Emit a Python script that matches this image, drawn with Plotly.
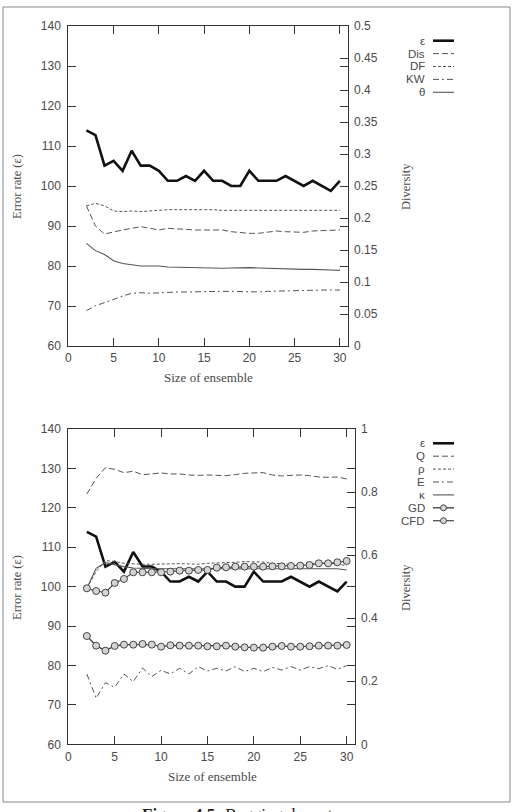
import plotly.graph_objects as go

W, H = 520, 812

# ---------------- data ----------------
ensemble_size = [2, 3, 4, 5, 6, 7, 8, 9, 10, 11, 12, 13, 14, 15, 16, 17, 18, 19, 20,
                 21, 22, 23, 24, 25, 26, 27, 28, 29, 30]

error_rate = [113.9, 112.7, 105.1, 106.3, 103.8, 108.8, 105.1, 105.1, 103.8, 101.3,
              101.3, 102.5, 101.3, 103.8, 101.3, 101.3, 100.0, 100.0, 103.8, 101.3,
              101.3, 101.3, 102.5, 101.3, 100.0, 101.3, 100.0, 98.8, 101.3]

dis = [0.219, 0.1875, 0.175, 0.1786, 0.1813, 0.1839, 0.1865, 0.1839, 0.1813, 0.1839,
       0.1828, 0.1818, 0.1813, 0.1813, 0.1813, 0.1813, 0.1786, 0.1771, 0.1760, 0.1760,
       0.1776, 0.1797, 0.1786, 0.1776, 0.1776, 0.1797, 0.1802, 0.1797, 0.1813]
df = [0.219, 0.223, 0.219, 0.211, 0.210, 0.211, 0.210, 0.211, 0.213, 0.213,
      0.213, 0.213, 0.213, 0.214, 0.213, 0.212, 0.212, 0.213, 0.213, 0.213,
      0.212, 0.212, 0.212, 0.212, 0.212, 0.212, 0.212, 0.212, 0.212]
kw = [0.0552, 0.063, 0.0677, 0.0734, 0.078, 0.0823, 0.0833, 0.0823, 0.0833, 0.0844,
      0.0844, 0.0844, 0.0849, 0.0849, 0.0854, 0.0854, 0.0854, 0.0849, 0.0839, 0.0844,
      0.0854, 0.0859, 0.0865, 0.0859, 0.0865, 0.087, 0.0875, 0.0875, 0.0875]
theta = [0.1604, 0.149, 0.143, 0.1333, 0.129, 0.1266, 0.125, 0.125, 0.125, 0.1234,
         0.1229, 0.1224, 0.1219, 0.1219, 0.1214, 0.1214, 0.1219, 0.1224, 0.1224, 0.1219,
         0.1214, 0.1203, 0.1203, 0.1203, 0.1198, 0.1198, 0.1188, 0.1188, 0.1182]

q_stat = [0.794, 0.8436, 0.877, 0.872, 0.8615, 0.866, 0.855, 0.8574, 0.8606, 0.8574,
          0.8574, 0.8542, 0.853, 0.8542, 0.853, 0.852, 0.8553, 0.8595, 0.8606, 0.8616,
          0.8542, 0.851, 0.853, 0.8542, 0.852, 0.8478, 0.8468, 0.8478, 0.8415]
rho = [0.495, 0.548, 0.5825, 0.58, 0.574, 0.572, 0.571, 0.571, 0.572, 0.572,
       0.573, 0.572, 0.571, 0.574, 0.575, 0.574, 0.5773, 0.5793, 0.5793, 0.578,
       0.574, 0.572, 0.572, 0.5687, 0.571, 0.574, 0.574, 0.572, 0.566]
entropy_e = [0.223, 0.146, 0.1956, 0.1808, 0.223, 0.1988, 0.242, 0.2146, 0.2347, 0.223,
             0.241, 0.223, 0.2463, 0.2325, 0.241, 0.2325, 0.2463, 0.2305, 0.241, 0.2305,
             0.244, 0.2357, 0.2463, 0.2357, 0.2463, 0.24, 0.2495, 0.2379, 0.2495]
kappa = [0.495, 0.558, 0.576, 0.5687, 0.5635, 0.559, 0.557, 0.557, 0.557, 0.557,
         0.557, 0.557, 0.557, 0.557, 0.557, 0.557, 0.557, 0.557, 0.557, 0.557,
         0.557, 0.557, 0.557, 0.557, 0.557, 0.556, 0.556, 0.557, 0.553]
gd = [0.3435, 0.3128, 0.297, 0.3118, 0.316, 0.316, 0.3182, 0.3161, 0.3097, 0.314,
      0.3129, 0.3129, 0.3129, 0.3108, 0.3108, 0.3129, 0.3097, 0.3076, 0.3066, 0.3066,
      0.3097, 0.3118, 0.3097, 0.3097, 0.3108, 0.3129, 0.3129, 0.3129, 0.315]
cfd = [0.4947, 0.4862, 0.481, 0.5116, 0.5244, 0.5455, 0.5455, 0.5455, 0.5455, 0.5476,
       0.5508, 0.5508, 0.553, 0.553, 0.5603, 0.5614, 0.5635, 0.5635, 0.5635, 0.5635,
       0.5645, 0.5645, 0.5656, 0.5666, 0.5687, 0.574, 0.574, 0.5772, 0.5814]

x_ticks = [0, 5, 10, 15, 20, 25, 30]
err_ticks = [60, 70, 80, 90, 100, 110, 120, 130, 140]
div_ticks_top = [0, 0.05, 0.1, 0.15, 0.2, 0.25, 0.3, 0.35, 0.4, 0.45, 0.5]
div_labels_top = ["0", "0.05", "0.1", "0.15", "0.2", "0.25", "0.3", "0.35", "0.4", "0.45", "0.5"]
div_ticks_bot = [0, 0.2, 0.4, 0.6, 0.8, 1]
div_labels_bot = ["0", "0.2", "0.4", "0.6", "0.8", "1"]

legend_top = ["ε", "Dis", "DF", "KW", "θ"]
legend_bot = ["ε", "Q", "ρ", "E", "κ", "GD", "CFD"]

# ---------------- styles ----------------
TXT = "#4a4a4a"
AX = "#333333"
GREY = "#555555"
SANS = "Liberation Sans, Arial, sans-serif"
SERIF = "Liberation Serif, DejaVu Serif, serif"

def px(xp):
    return xp / W

def py(yp):
    return 1 - yp / H

fig = go.Figure()

thick = dict(color="#111111", width=2.6)
styles_top = {
    "Dis": dict(color=GREY, width=1, dash="6px,3px"),
    "DF": dict(color=GREY, width=1, dash="3px,2px"),
    "KW": dict(color=GREY, width=1, dash="6px,3px,2px,3px"),
    "θ": dict(color=GREY, width=1.1),
}
styles_bot = {
    "Q": dict(color=GREY, width=1, dash="6px,3px"),
    "ρ": dict(color=GREY, width=1, dash="3px,2px"),
    "E": dict(color=GREY, width=1, dash="6px,3px,2px,3px"),
    "κ": dict(color=GREY, width=1.1),
    "GD": dict(color="#444444", width=1.4),
    "CFD": dict(color="#444444", width=1.2),
}
circ = dict(symbol="circle", size=7, color="#d4d4d4", line=dict(color="#444444", width=1))

# top panel
fig.add_trace(go.Scatter(x=ensemble_size, y=dis, mode="lines", line=styles_top["Dis"], xaxis="x", yaxis="y2"))
fig.add_trace(go.Scatter(x=ensemble_size, y=df, mode="lines", line=styles_top["DF"], xaxis="x", yaxis="y2"))
fig.add_trace(go.Scatter(x=ensemble_size, y=kw, mode="lines", line=styles_top["KW"], xaxis="x", yaxis="y2"))
fig.add_trace(go.Scatter(x=ensemble_size, y=theta, mode="lines", line=styles_top["θ"], xaxis="x", yaxis="y2"))
fig.add_trace(go.Scatter(x=ensemble_size, y=error_rate, mode="lines", line=thick, xaxis="x", yaxis="y"))

# bottom panel
fig.add_trace(go.Scatter(x=ensemble_size, y=q_stat, mode="lines", line=styles_bot["Q"], xaxis="x2", yaxis="y4"))
fig.add_trace(go.Scatter(x=ensemble_size, y=rho, mode="lines", line=styles_bot["ρ"], xaxis="x2", yaxis="y4"))
fig.add_trace(go.Scatter(x=ensemble_size, y=entropy_e, mode="lines", line=styles_bot["E"], xaxis="x2", yaxis="y4"))
fig.add_trace(go.Scatter(x=ensemble_size, y=kappa, mode="lines", line=styles_bot["κ"], xaxis="x2", yaxis="y4"))
fig.add_trace(go.Scatter(x=ensemble_size, y=gd, mode="lines+markers", line=styles_bot["GD"], marker=circ, xaxis="x2", yaxis="y4"))
fig.add_trace(go.Scatter(x=ensemble_size, y=cfd, mode="lines+markers", line=styles_bot["CFD"], marker=circ, xaxis="x2", yaxis="y4"))
fig.add_trace(go.Scatter(x=ensemble_size, y=error_rate, mode="lines", line=thick, xaxis="x2", yaxis="y3"))

tickfont = dict(family=SANS, size=12, color=TXT)
common_x = dict(range=[0, 30.9], tickvals=x_ticks, ticks="inside", ticklen=8, mirror="ticks",
                showline=True, linecolor=AX, linewidth=1, tickcolor=AX, showgrid=False,
                zeroline=False, tickfont=tickfont, automargin=False, ticklabelstandoff=1)
common_yl = dict(range=[60, 140], tickvals=err_ticks, ticks="inside", ticklen=8, mirror="ticks",
                 showline=True, linecolor=AX, linewidth=1, tickcolor=AX, showgrid=False,
                 zeroline=False, tickfont=tickfont, automargin=False, ticklabelstandoff=4)
common_yr = dict(side="right", ticks="inside", ticklen=8, showline=False, tickcolor=AX,
                 showgrid=False, zeroline=False, tickfont=tickfont, automargin=False,
                 ticklabelstandoff=5)

top_x = [px(68.3), px(348)]
top_y = [py(346), py(26)]
bot_x = [px(68.3), px(355)]
bot_y = [py(744.3), py(429)]

fig.update_layout(
    template="none",
    width=W, height=H,
    margin=dict(l=0, r=0, t=0, b=0, pad=0),
    paper_bgcolor="white", plot_bgcolor="white",
    showlegend=False,
    xaxis=dict(domain=top_x, anchor="y", **common_x),
    yaxis=dict(domain=top_y, anchor="x", **common_yl),
    yaxis2=dict(overlaying="y", anchor="x", range=[0, 0.5], tickvals=div_ticks_top,
                ticktext=div_labels_top, **common_yr),
    xaxis2=dict(domain=bot_x, anchor="y3", **common_x),
    yaxis3=dict(domain=bot_y, anchor="x2", **common_yl),
    yaxis4=dict(overlaying="y3", anchor="x2", range=[0, 1], tickvals=div_ticks_bot,
                ticktext=div_labels_bot, **common_yr),
)

ann = []
shapes = []

# frame
shapes.append(dict(type="rect", xref="paper", yref="paper", x0=px(3), x1=px(510), y0=py(802), y1=py(7),
                   line=dict(color="#888888", width=1)))

def text(t, x, y, size, family, angle=0, xanchor="center", color=TXT):
    ann.append(dict(text=t, x=px(x), y=py(y), xref="paper", yref="paper", textangle=angle,
                    xanchor=xanchor, yanchor="middle", showarrow=False,
                    font=dict(family=family, size=size, color=color)))

# axis titles
for yc in (187, 588):
    text("Error rate (ε)", 17, yc, 12.5, SERIF, angle=-90)
    text("Diversity", 406, yc, 12.5, SERIF, angle=-90)
text("Size of ensemble", 208, 377, 13, SERIF)
text("Size of ensemble", 212, 776, 13, SERIF)

# legends (text right-aligned, sample to the right)
def legend(names, y0, style_map, step):
    for i, name in enumerate(names):
        yy = y0 + i * step
        text(name, 427, yy, 11.5, SANS, xanchor="right")
        st = thick if name == "ε" else style_map[name]
        line = dict(color=st["color"], width=st["width"])
        if "dash" in st:
            line["dash"] = st["dash"]
        shapes.append(dict(type="line", xref="paper", yref="paper", x0=px(433), x1=px(454),
                           y0=py(yy), y1=py(yy), line=line))
        if name in ("GD", "CFD"):
            shapes.append(dict(type="circle", xref="paper", yref="paper",
                               x0=px(440.5), x1=px(446.5), y0=py(yy + 3), y1=py(yy - 3),
                               fillcolor="#d4d4d4", line=dict(color="#444444", width=1)))

legend(legend_top, 40.7, styles_top, 12.9)
legend(legend_bot, 443.3, styles_bot, 12.9)

# caption (cut at bottom of the page)
text("<b>Figure 4.5:</b> Bagging: breast cancer", 261, 814, 17, SERIF, color="#222222")

fig.update_layout(annotations=ann, shapes=shapes)
fig.write_html("out.html")
